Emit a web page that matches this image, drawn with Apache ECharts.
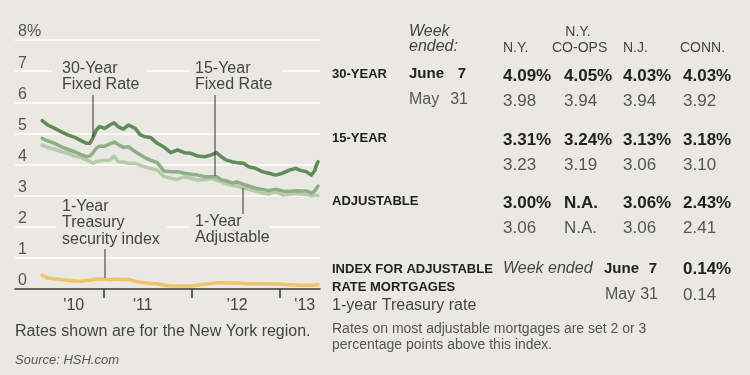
<!DOCTYPE html>
<html>
<head>
<meta charset="utf-8">
<script src="https://cdn.jsdelivr.net/npm/echarts@6/dist/echarts.min.js"></script>
<style>
  html, body { margin: 0; padding: 0; background: #e9e8e2; }
  #chart { width: 750px; height: 375px; }
</style>
</head>
<body>
<div id="chart"></div>
<script>
// weekly-ish readings, New York region
const dates = [
  '2010-04-23','2010-05-16','2010-06-14','2010-07-12','2010-08-07','2010-09-05','2010-10-03','2010-10-24','2010-11-06','2010-11-19','2010-12-03','2010-12-17',
  '2011-01-07','2011-01-28','2011-02-15','2011-03-04','2011-03-25','2011-04-15','2011-05-13','2011-06-03','2011-06-24','2011-07-15','2011-08-12','2011-09-09','2011-10-07','2011-11-04','2011-12-02','2011-12-30',
  '2012-01-27','2012-02-24','2012-03-23','2012-04-13','2012-05-04','2012-05-25','2012-06-15','2012-07-06','2012-08-03','2012-08-24','2012-09-21','2012-10-19','2012-11-16','2012-12-14',
  '2013-01-11','2013-02-08','2013-03-08','2013-03-22','2013-04-19','2013-05-10','2013-05-17','2013-05-24','2013-05-31','2013-06-07'
];
const fixed30 = [
  5.41,5.27,5.16,5.05,4.95,4.87,4.76,4.68,4.68,4.85,5.11,5.22,
  5.16,5.27,5.34,5.21,5.14,5.27,5.16,4.95,4.89,4.87,4.68,4.56,4.38,4.47,4.38,4.36,
  4.27,4.25,4.31,4.38,4.24,4.14,4.09,4.06,4.04,3.93,3.88,3.77,3.72,3.66,
  3.72,3.82,3.88,3.82,3.77,3.66,3.70,3.80,3.98,4.09
];
const fixed15 = [
  4.84,4.76,4.68,4.57,4.49,4.41,4.31,4.25,4.27,4.37,4.52,4.59,
  4.59,4.66,4.72,4.64,4.55,4.57,4.41,4.31,4.21,4.14,4.06,3.79,3.77,3.77,3.72,3.69,
  3.66,3.61,3.61,3.61,3.50,3.47,3.41,3.44,3.36,3.31,3.24,3.20,3.16,3.21,
  3.15,3.13,3.16,3.15,3.15,3.08,3.10,3.15,3.23,3.31
];
const adjustable1 = [
  4.63,4.55,4.49,4.41,4.36,4.27,4.22,4.14,4.10,4.04,4.10,4.11,
  4.14,4.14,4.27,4.09,4.08,4.04,4.04,3.97,3.92,3.88,3.82,3.61,3.56,3.52,3.60,3.56,
  3.50,3.52,3.55,3.50,3.44,3.37,3.33,3.31,3.24,3.20,3.15,3.08,3.05,3.13,
  3.02,3.04,3.07,3.05,3.04,2.99,2.98,3.02,3.06,3.00
];
const treasury1 = [
  0.44,0.35,0.33,0.30,0.28,0.26,0.25,0.27,0.28,0.30,0.32,0.33,
  0.31,0.30,0.32,0.31,0.30,0.31,0.25,0.22,0.20,0.18,0.17,0.12,0.10,0.10,0.10,0.10,
  0.12,0.16,0.18,0.20,0.20,0.19,0.19,0.19,0.18,0.17,0.17,0.17,0.16,0.16,
  0.15,0.14,0.13,0.12,0.12,0.12,0.12,0.13,0.14,0.14
];

const yearLabels = ["'10", "'11", "'12", "'13"];
const yearLabelDates = ['2010-09-01', '2011-06-13', '2012-07-08', '2013-04-13'];
const yearTickDates = ['2011-01-01', '2012-01-01', '2013-01-01'];

// table on the right
const regionHeads = ['N.Y.', 'CO-OPS', 'N.J.', 'CONN.'];
const rate30Now = ['4.09%', '4.05%', '4.03%', '4.03%'];
const rate30Prev = ['3.98', '3.94', '3.94', '3.92'];
const rate15Now = ['3.31%', '3.24%', '3.13%', '3.18%'];
const rate15Prev = ['3.23', '3.19', '3.06', '3.10'];
const adjNow = ['3.00%', 'N.A.', '3.06%', '2.43%'];
const adjPrev = ['3.06', 'N.A.', '3.06', '2.41'];
const indexNow = '0.14%';
const indexPrev = '0.14';

const BG = '#e9e8e2';
const FONT = '"Liberation Sans", Arial, sans-serif';
const ts = s => new Date(s + 'T00:00:00').getTime();

const chart = echarts.init(document.getElementById('chart'));

const txt = (x, y, text, size, opts = {}) => ({
  type: 'text',
  x: x,
  y: y,
  z: 10,
  style: {
    text: text,
    font: (opts.style || 'normal') + ' ' + (opts.weight || 'normal') + ' ' + size + 'px ' + FONT,
    fill: opts.color || '#444',
    align: opts.align || 'left',
    verticalAlign: 'middle'
  }
});
const vline = (x, y1, y2) => ({
  type: 'line', z: 9,
  shape: { x1: x, y1: y1, x2: x, y2: y2 },
  style: { stroke: '#333', lineWidth: 1 }
});
const box = (x, y, w, h) => ({
  type: 'rect', z: 8,
  shape: { x: x, y: y, width: w, height: h },
  style: { fill: BG }
});

const graphics = [];

// annotations in the plot
graphics.push(box(52, 60, 95, 35), txt(62, 69, '30-Year', 16), txt(62, 85, 'Fixed Rate', 16), vline(93, 95, 137));
graphics.push(box(189, 60, 93, 35), txt(195, 69, '15-Year', 16), txt(195, 85, 'Fixed Rate', 16), vline(215, 95, 176));
graphics.push(box(56, 198, 111, 51), txt(62, 207, '1-Year', 16), txt(62, 223, 'Treasury', 16), txt(62, 240, 'security index', 16), vline(105, 249, 278));
graphics.push(box(189, 213, 81, 33), txt(195, 222, '1-Year', 16), txt(195, 238, 'Adjustable', 16), vline(243, 188, 214));

// notes under the plot
graphics.push(txt(15, 332, 'Rates shown are for the New York region.', 16, { color: '#444' }));
graphics.push(txt(15, 360, 'Source: HSH.com', 13, { style: 'italic', color: '#555' }));

// table header
const colX = [503, 564, 623, 683];
graphics.push(txt(409, 32, 'Week', 16, { style: 'italic' }), txt(409, 47, 'ended:', 16, { style: 'italic' }));
graphics.push(txt(578, 32, 'N.Y.', 14, { align: 'center' }));
const headX = [503, 552, 623, 680];
regionHeads.forEach((h, i) => graphics.push(txt(headX[i], 48, h, 14)));

// rate rows
const rows = [
  { label: '30-YEAR', y: 76, now: rate30Now, prev: rate30Prev, dates: true },
  { label: '15-YEAR', y: 140, now: rate15Now, prev: rate15Prev },
  { label: 'ADJUSTABLE', y: 203, now: adjNow, prev: adjPrev }
];
rows.forEach(r => {
  graphics.push(txt(332, r.y - 2, r.label, 13, { weight: 'bold', color: '#222' }));
  r.now.forEach((v, i) => graphics.push(txt(colX[i], r.y, v, 17, { weight: 'bold', color: '#222' })));
  r.prev.forEach((v, i) => graphics.push(txt(colX[i], r.y + 25, v, 17, { color: '#555' })));
  if (r.dates) {
    graphics.push(txt(409, r.y - 2, 'June', 15, { weight: 'bold', color: '#222' }));
    graphics.push(txt(466, r.y - 2, '7', 15, { weight: 'bold', color: '#222', align: 'right' }));
    graphics.push(txt(409, r.y + 24, 'May', 16, { color: '#555' }));
    graphics.push(txt(468, r.y + 24, '31', 16, { color: '#555', align: 'right' }));
  }
});

// index row
graphics.push(txt(332, 269, 'INDEX FOR ADJUSTABLE', 13, { weight: 'bold', color: '#222' }));
graphics.push(txt(332, 287, 'RATE MORTGAGES', 13, { weight: 'bold', color: '#222' }));
graphics.push(txt(503, 269, 'Week ended', 16, { style: 'italic' }));
graphics.push(txt(604, 269, 'June', 15, { weight: 'bold', color: '#222' }));
graphics.push(txt(657, 269, '7', 15, { weight: 'bold', color: '#222', align: 'right' }));
graphics.push(txt(683, 269, indexNow, 17, { weight: 'bold', color: '#222' }));
graphics.push(txt(605, 295, 'May', 16, { color: '#555' }));
graphics.push(txt(658, 295, '31', 16, { color: '#555', align: 'right' }));
graphics.push(txt(683, 295, indexPrev, 17, { color: '#555' }));
graphics.push(txt(332, 306, '1-year Treasury rate', 16, { color: '#444' }));
graphics.push(txt(332, 329, 'Rates on most adjustable mortgages are set 2 or 3', 14, { color: '#555' }));
graphics.push(txt(332, 345, 'percentage points above this index.', 14, { color: '#555' }));

const labelTs = yearLabelDates.map(ts);

const lineSeries = (name, values, color) => ({
  name: name,
  type: 'line',
  data: dates.map((d, i) => [ts(d), values[i]]),
  showSymbol: false,
  lineStyle: { color: color, width: 3.5, cap: 'round', join: 'round' },
  itemStyle: { color: color }
});

const option = {
  animation: false,
  backgroundColor: BG,
  textStyle: { fontFamily: FONT },
  grid: { left: 15, right: 430, top: 40, bottom: 86, containLabel: false, outerBoundsMode: 'none' },
  xAxis: {
    // linear time scale in ms, so ticks and labels can sit on chosen dates
    type: 'value',
    min: ts('2010-01-01'),
    max: ts('2013-06-15'),
    axisLine: { lineStyle: { color: '#333', width: 1.5 } },
    axisTick: { customValues: yearTickDates.map(ts), length: 9, lineStyle: { color: '#333', width: 1.5 } },
    axisLabel: {
      customValues: labelTs,
      formatter: v => yearLabels[labelTs.indexOf(v)] || '',
      color: '#444', fontSize: 16, margin: 9
    },
    splitLine: { show: false }
  },
  yAxis: {
    type: 'value',
    min: 0, max: 8, interval: 1,
    axisLine: { show: false },
    axisTick: { show: false },
    axisLabel: {
      inside: true, margin: 3, verticalAlign: 'bottom',
      color: '#555', fontSize: 16,
      formatter: v => v === 8 ? '8%' : String(v)
    },
    splitLine: { lineStyle: { color: '#ffffff', width: 1.5 } }
  },
  series: [
    lineSeries('1-Year Treasury', treasury1, '#f0c36a'),
    lineSeries('1-Year Adjustable', adjustable1, '#b7caab'),
    lineSeries('15-Year Fixed', fixed15, '#8eae88'),
    lineSeries('30-Year Fixed', fixed30, '#5f8b58')
  ],
  graphic: graphics
};

chart.setOption(option);
</script>
</body>
</html>
